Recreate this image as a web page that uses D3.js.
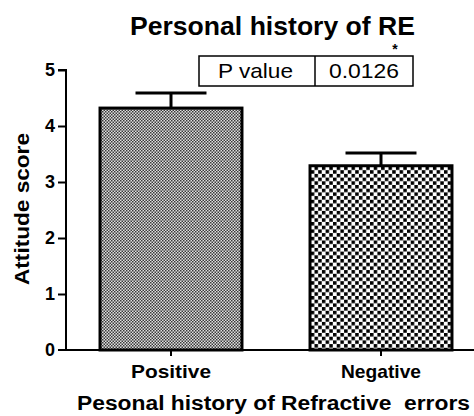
<!DOCTYPE html>
<html><head><meta charset="utf-8">
<script src="https://cdn.jsdelivr.net/npm/d3@7"></script>
<style>body{margin:0;background:#fff}svg{display:block}text{font-family:"Liberation Sans",Arial,sans-serif}</style>
</head><body>
<script>
const categories = ["Positive", "Negative"];
const means = [4.32, 3.29];
const errors = [0.27, 0.23];
const yTicks = [0, 1, 2, 3, 4, 5];
const pLabel = "P value";
const pValue = "0.0126";

const W = 474, H = 416;
const svg = d3.select("body").append("svg").attr("width", W).attr("height", H);
const defs = svg.append("defs");
const p1 = defs.append("pattern").attr("id","fine").attr("patternUnits","userSpaceOnUse").attr("width",3).attr("height",3);
p1.append("rect").attr("width",3).attr("height",3).attr("fill","#e0e0e0");
p1.append("rect").attr("width",1.5).attr("height",1.5).attr("fill","#3a3a3a");
p1.append("rect").attr("x",1.5).attr("y",1.5).attr("width",1.5).attr("height",1.5).attr("fill","#3a3a3a");
const p2 = defs.append("pattern").attr("id","coarse").attr("patternUnits","userSpaceOnUse").attr("width",7.4).attr("height",7.4);
p2.append("rect").attr("width",7.4).attr("height",7.4).attr("fill","#fff");
p2.append("rect").attr("width",3.5).attr("height",3.5).attr("fill","#000");
p2.append("rect").attr("x",3.7).attr("y",3.7).attr("width",3.5).attr("height",3.5).attr("fill","#000");

const y = d3.scaleLinear().domain([0,5]).range([350,70]);
const x = d3.scaleBand().domain(categories).range([66, 486]).paddingInner(0.324).paddingOuter(0.162);

const yAxis = svg.append("g").attr("transform","translate(66,0)")
  .call(d3.axisLeft(y).tickValues(yTicks).tickSize(8).tickPadding(3).tickFormat(d3.format("d")));
yAxis.select(".domain").attr("stroke","#000").attr("stroke-width",2).attr("d","M-8,70H0V350");
yAxis.selectAll(".tick line").attr("stroke","#000").attr("stroke-width",2);
yAxis.selectAll("text").attr("font-size",18).attr("font-weight","bold").attr("fill","#000");
yAxis.selectAll(".tick").filter(d=>d===0).select("line").remove();

const bw = x.bandwidth();
svg.selectAll("rect.bar").data(categories).enter().append("rect")
  .attr("x", d=>x(d)).attr("y", (d,i)=>y(means[i])).attr("width", bw)
  .attr("height", (d,i)=>y(0)-y(means[i]))
  .attr("fill",(d,i)=>i===0?"url(#fine)":"url(#coarse)")
  .attr("stroke","#000").attr("stroke-width",3);

const eb = svg.append("g");
categories.forEach((c,i)=>{
  const cx = x(c)+bw/2;
  eb.append("line").attr("x1",cx).attr("x2",cx).attr("y1",y(means[i])).attr("y2",y(means[i]+errors[i])).attr("stroke","#000").attr("stroke-width",3);
  eb.append("line").attr("x1",cx-bw/4).attr("x2",cx+bw/4).attr("y1",y(means[i]+errors[i])).attr("y2",y(means[i]+errors[i])).attr("stroke","#000").attr("stroke-width",3);
});

const xAxis = svg.append("g").attr("transform","translate(0,350)")
  .call(d3.axisBottom(x).tickSize(6).tickPadding(10));
xAxis.select(".domain").attr("stroke","#000").attr("stroke-width",2).attr("d","M58,0H474");
xAxis.selectAll(".tick line").attr("stroke","#000").attr("stroke-width",2);
xAxis.selectAll("text").attr("font-size",19).attr("font-weight","bold").attr("fill","#000")
  .attr("dy",null).attr("y",28).attr("textLength",80).attr("lengthAdjust","spacingAndGlyphs");

svg.append("text").attr("x",272.5).attr("y",35).attr("text-anchor","middle")
  .attr("font-size",25).attr("font-weight","bold").attr("textLength",285).attr("lengthAdjust","spacingAndGlyphs").text("Personal history of RE");
svg.append("text").attr("x",395).attr("y",54).attr("text-anchor","middle")
  .attr("font-size",14).attr("font-weight","bold").text("*");

const tb = svg.append("g");
tb.append("rect").attr("x",199).attr("y",56).attr("width",214).attr("height",30).attr("fill","#fff").attr("stroke","#000").attr("stroke-width",1.5);
tb.append("line").attr("x1",315).attr("x2",315).attr("y1",56).attr("y2",86).attr("stroke","#000").attr("stroke-width",1.5);
tb.append("text").attr("x",255.5).attr("y",78).attr("text-anchor","middle").attr("font-size",21).attr("textLength",75).attr("lengthAdjust","spacingAndGlyphs").text(pLabel);
tb.append("text").attr("x",364).attr("y",78).attr("text-anchor","middle").attr("font-size",21).attr("textLength",70).attr("lengthAdjust","spacingAndGlyphs").text(pValue);

svg.append("text").attr("transform","translate(29,209) rotate(-90)").attr("text-anchor","middle")
  .attr("font-size",20).attr("font-weight","bold").attr("textLength",152).attr("lengthAdjust","spacingAndGlyphs").text("Attitude score");
svg.append("text").attr("x",273.5).attr("y",410).attr("text-anchor","middle").style("white-space","pre")
  .attr("font-size",20).attr("font-weight","bold").attr("textLength",393).attr("lengthAdjust","spacingAndGlyphs").text("Pesonal history of Refractive  errors");
</script>
</body></html>
